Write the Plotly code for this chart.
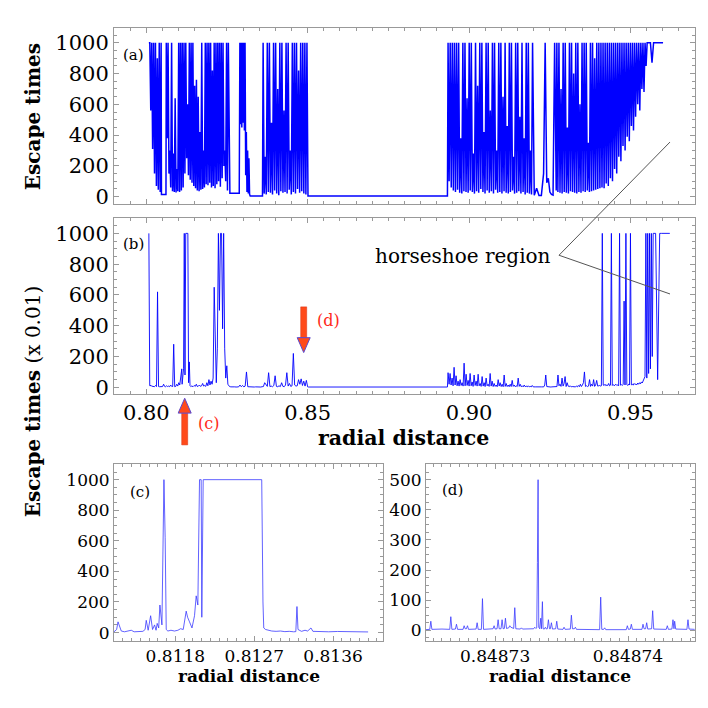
import numpy as np
import plotly.graph_objects as go

# ---------------------------------------------------------------------------
# Escape times vs radial distance. Dense stretches of the scan are kept as
# lists of values sampled evenly between two radii (r = start, end).
# ---------------------------------------------------------------------------

# panel (a): escape times
a1_r = [0.8008, 0.8046]
a1_t = [1000, 1000, 560, 1000, 310, 1000, 150, 1000, 70, 900, 45, 1000, 30, 1000]
ag1_r = [0.8047, 0.8061]
ag1_t = [15, 15]
a2_r = [0.8062, 0.8257]
a2_t = [1000, 380, 1000, 150, 300, 60,
        1000, 35, 280, 30, 640, 28, 180, 35, 1000, 30, 1000, 40,
        1000, 60, 1000, 150, 1000, 250,
        600, 140, 1000, 110, 1000, 90,
        1000, 70, 720, 55, 760, 40, 650, 35, 420, 45, 1000, 50, 300, 60, 1000, 80,
        1000, 75, 1000, 90, 1000, 60, 820, 70, 1000, 55, 1000, 80, 1000, 100,
        1000, 65, 1000, 120, 1000, 200,
        300, 100, 1000, 40, 1000, 25]
ag2_r = [0.8259, 0.8288]
ag2_t = [22, 22]
a3_r = [0.8290, 0.8320]
a3_t = [1000, 470, 1000, 450, 1000, 480, 1000, 430, 1000, 140, 420, 30, 300, 20, 250, 15]
ag3_r = [0.8322, 0.8360]
ag3_t = [5, 5]
a4_r = [0.8362, 0.8501]
a4_t = [1000, 20, 260, 15, 1000, 30, 1000, 25, 480, 15, 1000, 40, 1000, 20, 700, 10,
        1000, 35, 1000, 25, 560, 30, 1000, 20, 1000, 45, 300, 15, 1000, 30, 1000, 20,
        1000, 50, 820, 25, 1000, 35, 1000, 20, 1000, 15, 1000, 5]
ag4_r = [0.8503, 0.8933]
ag4_t = [5, 5]
a5_r = [0.8935, 0.9200]
a5_t = [1000, 100, 1000, 60, 1000, 40, 1000, 30, 1000, 45, 1000, 25, 380, 20, 1000, 35,
        1000, 30, 640, 25, 1000, 40, 1000, 30, 280, 20, 1000, 35, 720, 25, 1000, 50,
        1000, 30, 420, 20, 1000, 40, 1000, 25, 560, 35, 1000, 20, 1000, 45, 300, 25,
        1000, 30, 1000, 20, 650, 35, 1000, 25, 460, 20, 1000, 30, 1000, 40, 260, 20,
        1000, 25, 1000, 35, 520, 20, 1000, 30, 380, 15, 1000, 25, 1000, 20, 300, 15,
        1000, 10]
ag5_r = [0.9202, 0.9224]
ag5_t = [10, 55, 8, 8]
a6_r = [0.9226, 0.9270]
a6_t = [60, 150, 1000, 90, 120, 30, 15, 10, 1000, 40]
a7_r = [0.9272, 0.9555]
a7_t = [1000, 30, 1000, 25, 700, 20, 1000, 30, 1000, 25, 450, 20, 1000, 35, 1000, 30,
        800, 25, 1000, 20, 1000, 30, 600, 25, 1000, 35, 1000, 30, 1000, 40, 350, 30,
        1000, 35, 1000, 40, 900, 45, 1000, 50, 1000, 55,
        1000, 60, 1000, 55, 1000, 85, 1000, 70, 1000, 120, 1000, 100, 1000, 180, 1000, 150,
        1000, 260, 1000, 230, 1000, 330, 1000, 300, 1000, 390, 1000, 360, 1000, 460,
        1000, 430, 1000, 520, 1000, 600, 1000, 560, 1000, 700, 1000, 680, 1000, 850,
        1000, 1000]
ag6_r = [0.9557, 0.9601]
ag6_t = [1000, 1000, 870, 1000, 1000, 1000, 1000, 1000, 1000, 1000]

# panel (b): escape times (x 0.01)
b1_r = [0.8008, 0.8012]
b1_t = [1000, 40, 15, 8]
b2_r = [0.8013, 0.8110]
b2_t = [15, 8, 5, 6, 4, 12, 5, 620, 5, 4, 6, 8, 5, 20, 6, 4, 10, 5, 8, 4, 15, 6, 5, 280,
        4, 6, 20, 8, 30, 15, 60, 120]
b3_r = [0.8111, 0.8140]
b3_t = [20, 60, 120, 1000, 80, 1000, 1000, 1000, 1000, 30, 165, 10, 5, 8]
b4_r = [0.8142, 0.8256]
b4_t = [8, 5, 12, 6, 20, 5, 8, 15, 6, 10, 25, 8, 12, 6, 30, 10, 50, 15, 40, 20,
        60, 650, 340, 30, 250, 1000, 500, 1000, 1000, 380, 1000, 250, 60, 140, 20, 8]
b5_r = [0.8258, 0.8500]
b5_t = [5, 3, 4, 2, 3, 2, 4, 3, 15, 4, 12, 3, 8, 100, 4, 3, 2, 3, 2, 2,
        3, 2, 3, 2, 2, 4, 5, 30, 15, 6, 95, 5, 8, 4, 12, 75, 6, 4, 10, 5,
        30, 6, 4, 15, 95, 8, 25, 6, 10, 220, 15, 8, 10, 50, 20, 55, 12, 40, 8, 45, 3]
bg1_r = [0.8502, 0.8933]
bg1_t = [2, 2]
b6_r = [0.8935, 0.9205]
b6_t = [95, 20, 90, 15, 60, 10, 130, 15, 75, 10, 40, 8, 50, 12, 30, 8, 157, 10, 85, 12,
        45, 8, 90, 10, 35, 6, 80, 12, 40, 8, 85, 10, 25, 6, 70, 8, 30, 5, 60, 10,
        20, 6, 90, 8, 40, 5, 25, 6, 15, 4, 50, 8, 30, 5, 20, 4, 80, 6, 25, 5,
        15, 4, 20, 5, 45, 6, 15, 4, 10, 5, 60, 6, 20, 4, 10, 3, 15, 4, 8, 3,
        10, 3, 6, 3, 12, 3, 5, 3]
b7_r = [0.9225, 0.9408]
b7_t = [3, 4, 3, 15, 80, 5, 3, 4, 3, 2, 3, 4, 3, 2, 3, 5, 80, 10, 20, 6,
        60, 8, 25, 70, 5, 30, 8, 4, 10, 3, 5, 3, 4, 3, 8, 3, 12, 4, 20, 5,
        15, 30, 100, 6, 10, 5, 8, 50, 6, 20, 8, 50, 6, 15, 45, 8, 10, 12, 8]
b8_r = [0.9410, 0.9576]
b8_t = [10, 1000, 15, 12, 20, 10, 15, 12, 25, 10, 14, 1000, 12, 18, 10, 15, 20, 12, 16, 10,
        1000, 14, 18, 12, 20, 560, 15, 1000, 18, 12, 22, 15, 1000, 16, 20, 14, 25, 18, 22, 16,
        28, 20, 30, 22, 35, 28, 40, 50, 70, 1000, 60, 1000, 90, 1000, 120, 1000, 200, 1000,
        1000, 1000]
b9_r = [0.9578, 0.9622]
b9_t = [1000, 50, 1000, 1000, 1000, 1000, 1000, 1000]

# panel (c): zoom near r = 0.8118
c_r = [0.81110, 0.81113, 0.811146, 0.81116, 0.811183, 0.81122, 0.81126, 0.811297,
       0.81133, 0.81138, 0.81143, 0.811455, 0.811468, 0.81149, 0.811518, 0.81154,
       0.811563, 0.81158, 0.811593, 0.81161, 0.811624, 0.811647, 0.811670, 0.811684,
       0.811696, 0.811715, 0.81175, 0.81179, 0.811829, 0.81186, 0.81189, 0.811924,
       0.81194, 0.811962, 0.81199, 0.812019, 0.812038, 0.812057, 0.812076, 0.812095,
       0.812102, 0.812118, 0.812786, 0.812800, 0.812809, 0.81283, 0.81286, 0.81290,
       0.81295, 0.81300, 0.81305, 0.81310, 0.81315, 0.813175, 0.813188, 0.81320, 0.81324,
       0.81328, 0.81331, 0.813348, 0.81337, 0.81345, 0.81355, 0.81365, 0.81375,
       0.81385, 0.81395, 0.81400]
c_t = [5, 20, 70, 45, 10, 5, 8, 15,
       5, 6, 8, 20, 80, 15, 110, 20,
       50, 15, 60, 30, 180, 50, 1000, 620,
       20, 10, 15, 10, 15, 25, 20, 140,
       100, 70, 30, 110, 240, 180, 1000, 1000,
       100, 1000, 1000, 200, 30, 20, 15, 10,
       8, 10, 6, 8, 5, 6, 170, 20, 8,
       15, 10, 30, 8, 6, 5, 7, 5,
       6, 5, 4]

# panel (d): zoom near r = 0.84873
d_r = [0.848724800,
       0.848725083, 0.848725163, 0.848725243, 0.848726000,
       0.848726587, 0.848726667, 0.848726747,
       0.848727013, 0.848727093, 0.848727173,
       0.848727589, 0.848727669, 0.848727749,
       0.848727840, 0.848727920, 0.848728000,
       0.848728567, 0.848728647, 0.848728727,
       0.848728968, 0.848729048, 0.848729128,
       0.848729845, 0.848729925, 0.848730005,
       0.848730146, 0.848730226, 0.848730306,
       0.848730446, 0.848730526, 0.848730606,
       0.848730697, 0.848730777, 0.848730857,
       0.848731023, 0.848731103, 0.848731183,
       0.848731399, 0.848731479, 0.848731559,
       0.848731900, 0.848731980, 0.848732060,
       0.848732902, 0.848732982, 0.848733062,
       0.848733133, 0.848733183, 0.848733233, 0.848733283,
       0.848733354, 0.848733434, 0.848733484,
       0.848733559, 0.848733609,
       0.848733704, 0.848733784, 0.848733864,
       0.848733930, 0.848734010, 0.848734090,
       0.848734156, 0.848734236, 0.848734316,
       0.848734557, 0.848734637, 0.848734717,
       0.848735108, 0.848735188, 0.848735268,
       0.848735659, 0.848735739, 0.848735819,
       0.848735960, 0.848736040, 0.848736120,
       0.848737865, 0.848737945, 0.848738025,
       0.848738166, 0.848738246, 0.848738326,
       0.848739870, 0.848739950, 0.848740030,
       0.848740171, 0.848740251, 0.848740331,
       0.848741048, 0.848741128, 0.848741208,
       0.848741324, 0.848741404, 0.848741484,
       0.848741775, 0.848741855, 0.848741935,
       0.848742877, 0.848742957, 0.848743037,
       0.848743303, 0.848743383, 0.848743459,
       0.848743509, 0.848743589,
       0.848744431, 0.848744511, 0.848744591,
       0.848745015]
d_t = [2,
       3, 30, 3, 4,
       3, 45, 3,
       4, 20, 3,
       3, 15, 5,
       5, 15, 3,
       4, 25, 3,
       3, 105, 3,
       5, 15, 4,
       5, 35, 5,
       5, 35, 5,
       6, 40, 6,
       8, 15, 10,
       6, 75, 5,
       4, 8, 4,
       5, 10, 6,
       8, 225, 500, 10,
       5, 40, 5,
       95, 5,
       4, 10, 4,
       5, 35, 5,
       5, 25, 4,
       5, 30, 4,
       3, 10, 3,
       4, 50, 5,
       5, 10, 3,
       2, 110, 3,
       3, 8, 2,
       2, 15, 3,
       4, 20, 3,
       3, 20, 5,
       5, 25, 4,
       5, 65, 4,
       3, 15, 3,
       4, 35, 5,
       30, 4,
       3, 35, 4,
       3]


def sampled(*parts):
    # join stretches; each stretch is spread evenly over its own radii
    xs, ys = [], []
    for r, t in parts:
        xs += list(np.linspace(r[0], r[1], len(t)))
        ys += list(t)
    return xs, ys


a_x, a_y = sampled((a1_r, a1_t), (ag1_r, ag1_t), (a2_r, a2_t), (ag2_r, ag2_t),
                   (a3_r, a3_t), (ag3_r, ag3_t), (a4_r, a4_t), (ag4_r, ag4_t),
                   (a5_r, a5_t), (ag5_r, ag5_t), (a6_r, a6_t), (a7_r, a7_t),
                   (ag6_r, ag6_t))
b_x, b_y = sampled((b1_r, b1_t), (b2_r, b2_t), (b3_r, b3_t), (b4_r, b4_t),
                   (b5_r, b5_t), (bg1_r, bg1_t), (b6_r, b6_t), (b7_r, b7_t),
                   (b8_r, b8_t), (b9_r, b9_t))

W = H = 708
FONT = "DejaVu Serif"
GRAY = "#999999"
BLUE = "#0000ff"
ARROW = "#ff4a1a"


def px(x):
    return x / W


def py(y):
    return 1 - y / H


fig = go.Figure()
fig.add_trace(go.Scatter(x=a_x, y=a_y, mode="lines", line=dict(color=BLUE, width=1.5),
                         xaxis="x", yaxis="y"))
fig.add_trace(go.Scatter(x=b_x, y=b_y, mode="lines", line=dict(color=BLUE, width=0.9),
                         xaxis="x2", yaxis="y2"))
fig.add_trace(go.Scatter(x=c_r, y=c_t, mode="lines", line=dict(color="#3a3aff", width=0.8),
                         xaxis="x3", yaxis="y3"))
fig.add_trace(go.Scatter(x=d_r, y=d_t, mode="lines", line=dict(color="#3a3aff", width=0.8),
                         xaxis="x4", yaxis="y4"))


def axis(domain, rng, dtick, tick0, minor, size, labels=True, fmt=None, anchor=None):
    d = dict(domain=domain, range=rng, dtick=dtick, tick0=tick0, ticks="inside",
             ticklen=5, tickcolor=GRAY, tickwidth=1, showline=True, linecolor=GRAY,
             linewidth=1, mirror="ticks", showgrid=False, zeroline=False,
             showticklabels=labels, tickfont=dict(family=FONT, size=size, color="black"),
             minor=dict(dtick=minor, ticks="inside", ticklen=3, tickcolor=GRAY,
                        showgrid=False),
             anchor=anchor)
    if fmt:
        d["tickformat"] = fmt
    return d


xa = [px(106), px(687)]
fig.update_layout(
    width=W, height=H, margin=dict(l=0, r=0, t=0, b=0),
    paper_bgcolor="white", plot_bgcolor="white", showlegend=False,
    font=dict(family=FONT, color="black"),
    xaxis=axis(xa, [0.79, 0.97], 0.05, 0.8, 0.005, 21, labels=False, anchor="y"),
    yaxis=axis([py(197), py(20)], [-45, 1097], 200, 0, 50, 21, anchor="x"),
    xaxis2=axis(xa, [0.79, 0.97], 0.05, 0.8, 0.005, 21, fmt=".2f", anchor="y2"),
    yaxis2=axis([py(389), py(211)], [-45, 1103], 200, 0, 50, 21, anchor="x2"),
    xaxis3=axis([px(106), px(375)], [0.8111, 0.81417], 0.0009, 0.8118, 0.0001, 17,
                fmt=".4f", anchor="y3"),
    yaxis3=axis([py(637), py(459)], [-52, 1104], 200, 0, 50, 17, anchor="x3"),
    xaxis4=axis([px(418), px(687)], [0.8487248, 0.84874504], 0.00001, 0.84873,
                0.00001 / 15, 17, fmt=".5f", anchor="y4"),
    yaxis4=axis([py(637), py(459)], [-34, 553], 100, 0, 25, 17, anchor="x4"),
)

ann = []


def text(x, y, s, size, anchor="left", color="black", angle=0):
    ann.append(dict(x=px(x), y=py(y), xref="paper", yref="paper", text=s, showarrow=False,
                    xanchor=anchor, yanchor="middle", textangle=angle,
                    font=dict(family=FONT, size=size, color=color)))


text(113, 47, "(a)", 15)
text(113, 238, "(b)", 15)
text(120, 487, "(c)", 15)
text(432, 485, "(d)", 15)
text(25, 110, "<b>Escape times</b>", 20, anchor="center", angle=-90)
text(25, 397, "<b>Escape times</b> (x 0.01)", 20, anchor="center", angle=-90)
text(396, 433, "<b>radial distance</b>", 20.5, anchor="center")
text(241, 673, "<b>radial distance</b>", 17, anchor="center")
text(552, 673, "<b>radial distance</b>", 17, anchor="center")
text(545, 250, "horseshoe region", 20, anchor="right")
text(307, 315, "(d)", 16, color="#ff2a1a")
text(188, 418, "(c)", 16, color="#ff2a1a")
fig.update_layout(annotations=ann)

shapes = []
# pointer lines for the horseshoe label
for x1, y1 in [(662, 135), (662, 288)]:
    shapes.append(dict(type="line", xref="paper", yref="paper", x0=px(551), y0=py(249),
                       x1=px(x1), y1=py(y1), line=dict(color="#555555", width=1)))


def arrow(xc, tail, base, tip):
    shapes.append(dict(type="rect", xref="paper", yref="paper", x0=px(xc - 3), x1=px(xc + 3),
                       y0=py(tail), y1=py(base), fillcolor=ARROW,
                       line=dict(color="#d83010", width=0.5)))
    path = "M {},{} L {},{} L {},{} Z".format(px(xc - 6.5), py(base), px(xc + 6.5), py(base),
                                            px(xc), py(tip))
    shapes.append(dict(type="path", xref="paper", yref="paper", path=path, fillcolor=ARROW,
                       line=dict(color="#5a4ad0", width=1)))


arrow(295.7, 301, 332, 347)
arrow(176.7, 440, 408, 393)
fig.update_layout(shapes=shapes)

fig.write_html("out.html")
